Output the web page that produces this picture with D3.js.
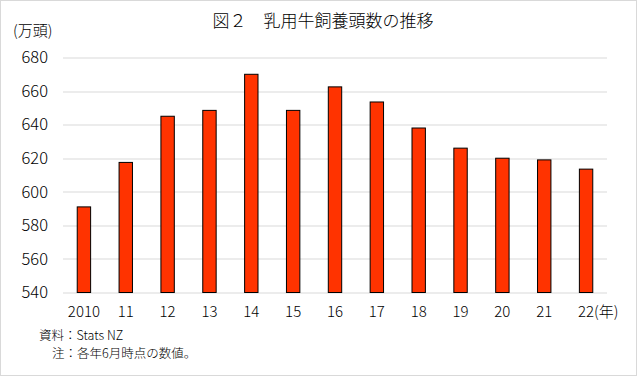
<!DOCTYPE html>
<html>
<head>
<meta charset="utf-8">
<script src="https://cdn.jsdelivr.net/npm/d3@7"></script>
<style>
  body { margin: 0; background: #fff; }
  text { font-family: "Noto Sans CJK JP", "Liberation Sans", sans-serif; font-weight: 300; fill: #000; }
</style>
</head>
<body>
<svg id="chart" width="638" height="376"></svg>
<script>
// 年（ラベル）
const years = ["2010", "11", "12", "13", "14", "15", "16", "17", "18", "19", "20", "21", "22"];
// 乳用牛飼養頭数（万頭）
const heads = [591, 617.5, 645, 648.5, 670, 648.5, 662.5, 653.5, 638, 626, 620, 619, 613.5];
// 目盛り
const yTicks = [540, 560, 580, 600, 620, 640, 660, 680];

const svg = d3.select("#chart");
const margin = {top: 57.5, right: 31, bottom: 83.5, left: 63};
const width = 638 - margin.left - margin.right,
      height = 376 - margin.top - margin.bottom;

// 枠
svg.append("rect")
  .attr("x", 0.5).attr("y", 0.5)
  .attr("width", 636).attr("height", 375)
  .attr("fill", "#fff")
  .attr("stroke", "#d9d9d9");

const g = svg.append("g")
  .attr("transform", `translate(${margin.left},${margin.top})`);

const x = d3.scaleBand()
  .domain(years)
  .range([0, width])
  .padding(0);

const y = d3.scaleLinear()
  .domain([540, 680])
  .range([height, 0]);

// グリッド線
g.selectAll("line.grid")
  .data(yTicks)
  .enter().append("line")
    .attr("class", "grid")
    .attr("x1", 0).attr("x2", width)
    .attr("y1", d => Math.round(y(d)) + 0.5)
    .attr("y2", d => Math.round(y(d)) + 0.5)
    .attr("stroke", "#d9d9d9")
    .attr("stroke-width", 1);

// Y軸ラベル
g.selectAll("text.ytick")
  .data(yTicks)
  .enter().append("text")
    .attr("class", "ytick")
    .attr("x", -15)
    .attr("y", d => y(d))
    .attr("dy", "0.35em")
    .attr("text-anchor", "end")
    .style("font-size", "16.5px")
    .text(d => d);

// 棒
const barW = x.bandwidth() * 0.32;
g.selectAll("rect.bar")
  .data(heads)
  .enter().append("rect")
    .attr("class", "bar")
    .attr("x", (d, i) => x(years[i]) + x.bandwidth() / 2 - barW / 2)
    .attr("y", d => y(d))
    .attr("width", barW)
    .attr("height", d => y(540) - y(d))
    .attr("fill", "#ff3300")
    .attr("stroke", "#000")
    .attr("stroke-width", 1);

// X軸ラベル
g.selectAll("text.xtick")
  .data(years)
  .enter().append("text")
    .attr("class", "xtick")
    .attr("x", d => x(d) + x.bandwidth() / 2)
    .attr("y", height + 24)
    .attr("text-anchor", "middle")
    .style("font-size", "15px")
    .text(d => d);

g.append("text")
  .attr("x", x("22") + x.bandwidth() / 2 + 8)
  .attr("y", height + 24)
  .style("font-size", "15px")
  .text("(年)");

// 単位
svg.append("text")
  .attr("x", 13)
  .attr("y", 36)
  .style("font-size", "15px")
  .text("(万頭)");

// タイトル
svg.append("text")
  .attr("x", 323)
  .attr("y", 27)
  .attr("text-anchor", "middle")
  .style("font-size", "17px")
  .text("図２　乳用牛飼養頭数の推移");

// 注記
svg.append("text")
  .attr("x", 39)
  .attr("y", 340)
  .style("font-size", "12.5px")
  .text("資料：Stats NZ");

svg.append("text")
  .attr("x", 52)
  .attr("y", 358)
  .style("font-size", "12.5px")
  .text("注：各年6月時点の数値。");
</script>
</body>
</html>
